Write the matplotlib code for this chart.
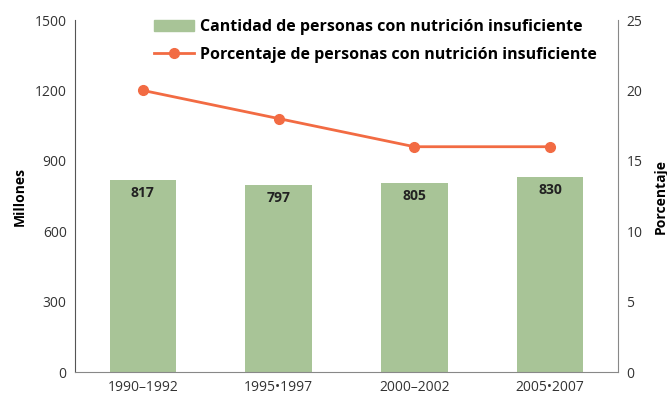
import matplotlib
matplotlib.use("Agg")
import matplotlib.pyplot as plt
from matplotlib.lines import Line2D
from matplotlib.patches import Patch

categories = ["1990\u20131992", "1995\u20221997", "2000\u20132002", "2005\u20222007"]
millions = [817, 797, 805, 830]
percent = [20, 18, 16, 16]

bar_color = "#A8C497"
line_color = "#F26B43"
plt.rcParams['font.family'] = ['Open Sans', 'DejaVu Sans']

fig = plt.figure(figsize=(6.67, 4.0), dpi=100)
ax = fig.add_axes([0.1124, 0.07, 0.8141, 0.88])
x = list(range(len(categories)))
bars = ax.bar(x, millions, width=0.49, color=bar_color, zorder=2)
for xi, v in zip(x, millions):
    ax.text(xi, v - 25, str(v), ha='center', va='top', fontsize=10, fontweight='bold', color='#222222')
ax.set_xlim(-0.5, 3.5)
ax.set_ylim(0, 1500)
ax.set_yticks([0, 300, 600, 900, 1200, 1500])
ax.set_xticks(x)
ax.set_xticklabels(categories)
ax.set_ylabel("Millones", fontsize=10, fontweight='bold', labelpad=6)
ax.tick_params(length=0, labelsize=10, colors='#333333', pad=6)
for s in ['top']:
    ax.spines[s].set_visible(False)
ax.spines['left'].set_color('#555555')
ax.spines['bottom'].set_color('#888888')
ax.spines['right'].set_visible(False)

ax2 = ax.twinx()
ax2.plot(x, percent, color=line_color, lw=2, marker='o', ms=7, zorder=3)
ax2.set_ylim(0, 25)
ax2.set_yticks([0, 5, 10, 15, 20, 25])
ax2.set_ylabel("Porcentaje", fontsize=10, fontweight='bold', labelpad=8)
ax2.tick_params(length=0, labelsize=10, colors='#333333', pad=6)
ax2.spines['top'].set_visible(False)
ax2.spines['left'].set_visible(False)
ax2.spines['bottom'].set_visible(False)
ax2.spines['right'].set_color('#888888')

handles = [Patch(color=bar_color), Line2D([0], [0], color=line_color, lw=2, marker='o', ms=7)]
labels = ["Cantidad de personas con nutrición insuficiente",
          "Porcentaje de personas con nutrición insuficiente"]
leg = ax2.legend(handles, labels, loc='upper left', bbox_to_anchor=(0.134, 1.02), frameon=False,
                 prop={'weight': 'bold', 'size': 11.5}, handlelength=2.5, handletextpad=0.35,
                 labelspacing=0.7, borderaxespad=0)
leg.set_zorder(5)
fig.savefig("out.png", dpi=100)
